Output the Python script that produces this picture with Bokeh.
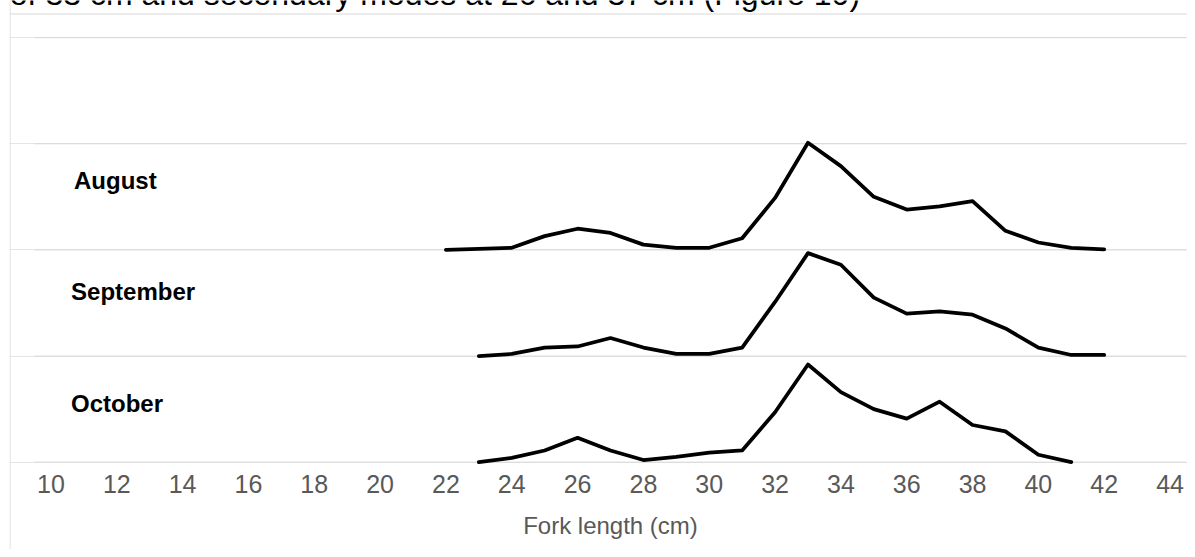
from bokeh.plotting import figure
from bokeh.models import Range1d, FixedTicker, Span, ColumnDataSource
from bokeh.core.properties import value
from bokeh.embed import file_html
from bokeh.resources import INLINE

# ---- data ----
months = ["August", "September", "October"]
offsets = [20, 10, 0]             # ridge baselines (one grid band per month)
label_x = [10.7, 10.61, 10.61]    # month label anchors (fork length units)
label_y = [26.5, 16.05, 5.5]      # month label heights (value axis units)
aug_len = list(range(22, 43))
aug_val = [0.0, 0.1, 0.2, 1.3, 2.0, 1.6, 0.5, 0.2, 0.2, 1.1, 4.9, 10.1, 7.9, 5.0, 3.8, 4.1, 4.6, 1.8, 0.7, 0.2, 0.05]
sep_len = list(range(23, 43))
sep_val = [0.0, 0.2, 0.8, 0.9, 1.7, 0.8, 0.2, 0.2, 0.8, 5.1, 9.7, 8.6, 5.5, 4.0, 4.2, 3.9, 2.6, 0.8, 0.1, 0.1]
oct_len = list(range(23, 42))
oct_val = [0.0, 0.4, 1.1, 2.3, 1.1, 0.2, 0.5, 0.9, 1.1, 4.7, 9.2, 6.6, 5.0, 4.1, 5.7, 3.5, 2.9, 0.7, 0.0]
categories = list(range(10, 45))  # category axis 10..44
x_ticks = list(range(10, 46, 2))
band_ticks = [0, 10, 20, 30, 40]
x_title = "Fork length (cm)"
top_text = "of 33 cm and secondary modes at 26 and 37 cm (Figure 10)"

FONT = "Liberation Sans"
GRID = "#d9d9d9"

x_lo = min(categories) - 0.5
x_hi = max(categories) + 0.5

# the frame covers the page region; the category axis sits inside it
p = figure(width=1187, height=549, output_backend="svg", toolbar_location=None,
           x_range=Range1d(8.7404, 44.5307), y_range=Range1d(-8.23, 43.505),
           y_axis_location=None,
           min_border_left=9, min_border_right=0, min_border_top=0, min_border_bottom=0)
p.outline_line_color = None
p.background_fill_color = "white"
p.border_fill_color = "white"
p.xgrid.visible = False

# outer chart box: left and top edges (right/bottom lie outside the view)
p.add_layout(Span(location=8.7556, dimension="height", line_color=GRID, line_width=1))
p.add_layout(Span(location=42.233, dimension="width", line_color=GRID, line_width=1))

# horizontal gridlines across the plot area
p.segment(x0=[x_lo] * len(band_ticks), x1=[x_hi] * len(band_ticks),
          y0=band_ticks, y1=band_ticks, line_color=GRID, line_width=1)

# x axis
ax = p.xaxis[0]
ax.fixed_location = 0
ax.ticker = FixedTicker(ticks=x_ticks)
ax.axis_line_color = None
ax.major_tick_line_color = None
ax.minor_tick_line_color = None
ax.major_tick_out = 0
ax.major_tick_in = 0
ax.major_label_standoff = 13
ax.major_label_text_font = FONT
ax.major_label_text_font_size = "25px"
ax.major_label_text_color = "#595959"

# axis title, centred under the plot area
p.text(x=[(x_lo + x_hi) / 2], y=[-5.95], text=[x_title], text_font=value(FONT),
       text_font_size="24px", text_color="#595959",
       text_align="center", text_baseline="middle")

# ridge lines
series = [(aug_len, aug_val), (sep_len, sep_val), (oct_len, oct_val)]
for (xs, vals), off in zip(series, offsets):
    src = ColumnDataSource(dict(x=xs, y=[v + off for v in vals]))
    p.line("x", "y", source=src, line_color="black", line_width=3.75,
           line_join="round", line_cap="round")

# month labels
lab_src = ColumnDataSource(dict(x=label_x, y=label_y, t=months))
p.text("x", "y", text="t", source=lab_src, text_font=value(FONT),
       text_font_size="24px", text_font_style="bold", text_color="black",
       text_baseline="middle", text_align="left")

# fragment of the surrounding document text (cut at the top, as in the source)
p.text(x=[8.75], y=[42.39], text=[top_text], text_font=value(FONT),
       text_font_size="32px", text_color="black",
       text_baseline="bottom", text_align="left")

open("out.html", "w").write(file_html(p, INLINE))
